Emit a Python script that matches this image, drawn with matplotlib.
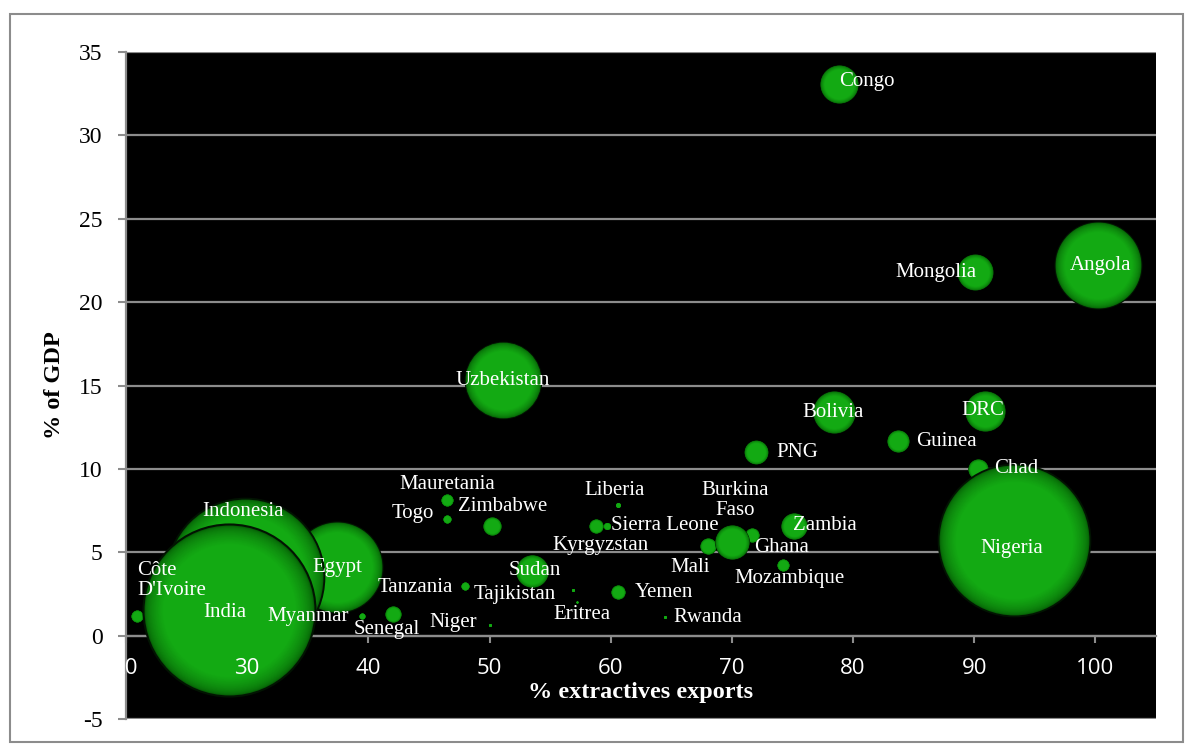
import matplotlib
matplotlib.use("Agg")
import matplotlib.pyplot as plt
import numpy as np
from matplotlib.colors import to_rgb
from matplotlib.patches import Rectangle

plt.rcParams["axes.unicode_minus"] = False

# data: % extractives exports, % of GDP, bubble value (area)
countries = ["Congo", "Angola", "Mongolia", "Bolivia", "DRC", "Guinea", "Chad",
             "Nigeria", "Uzbekistan", "PNG", "Liberia", "Sierra Leone", "Kyrgyzstan",
             "Burkina\nFaso", "Mali", "Ghana", "Zambia", "Mozambique", "Sudan",
             "Tajikistan", "Yemen", "Eritrea", "Rwanda", "Mauretania", "Togo",
             "Zimbabwe", "Tanzania", "Côte\nD'Ivoire", "Myanmar", "Senegal", "Niger",
             "Egypt", "Indonesia", "India"]
exports_pct = [78.8, 100.2, 90.1, 78.4, 90.9, 83.7, 90.3,
               93.3, 51.1, 72.0, 60.6, 59.7, 58.8,
               71.7, 68.0, 70.0, 75.1, 74.2, 53.5,
               56.9, 60.6, 57.2, 64.5, 46.5, 46.5,
               50.2, 48.0, 20.9, 39.5, 42.0, 50.0,
               37.45, 29.8, 28.5]
gdp_pct = [33.1, 22.2, 21.8, 13.4, 13.5, 11.7, 10.0,
           5.75, 15.3, 11.0, 7.85, 6.6, 6.6,
           6.05, 5.35, 5.6, 6.6, 4.25, 3.9,
           2.75, 2.6, 2.0, 1.1, 8.15, 7.0,
           6.55, 3.0, 1.2, 1.15, 1.3, 0.65,
           4.1, 3.5, 1.55]
bubble_value = [36, 185, 32, 44, 40, 12, 10,
                563, 144, 14, 0.6, 1.2, 4.9,
                4.9, 6.4, 29, 17, 3.6, 26,
                0.2, 4.9, 0.1, 0.2, 3.6, 1.6,
                8.1, 1.6, 3.6, 0.9, 6.4, 0.2,
                203, 608, 723]

y_ticks = [-5, 0, 5, 10, 15, 20, 25, 30, 35]
x_ticks = [20, 30, 40, 50, 60, 70, 80, 90, 100]

# label offsets in pixels (dx, dy up)
label_offsets = {
    "Congo": (28, 2), "Angola": (3, 0), "Mongolia": (-40, 0), "Bolivia": (-1, 0),
    "DRC": (-2, 0), "Guinea": (49, -1), "Chad": (38, 0), "Nigeria": (-2, -9),
    "Uzbekistan": (0, 0), "PNG": (41, 0), "Liberia": (-3, 14), "Sierra Leone": (58, 0),
    "Kyrgyzstan": (4, -20), "Burkina\nFaso": (-17, 34), "Mali": (-18, -21),
    "Ghana": (50, -5), "Zambia": (31, 0), "Mozambique": (7, -14), "Sudan": (3, 0),
    "Tajikistan": (-58, -5), "Yemen": (46, 0), "Eritrea": (5, -12), "Rwanda": (43, 0),
    "Mauretania": (0, 15), "Togo": (-34, 5), "Zimbabwe": (11, 20), "Tanzania": (-50, -2),
    "Côte\nD'Ivoire": (0, 35), "Myanmar": (-54, 0), "Senegal": (-6, -16),
    "Niger": (-36, 2), "Egypt": (0, 0), "Indonesia": (-2, 66), "India": (-4, -3),
}

fig = plt.figure(figsize=(11.92, 7.49), dpi=100)
fig.patch.set_facecolor("white")
ax = fig.add_axes([126 / 1192, 30 / 749, 1030 / 1192, 667 / 749])
ax.set_facecolor("black")
ax.set_xlim(20, 105)
ax.set_ylim(-5, 35)

grey = "#8c8c8c"
ax.set_yticks(y_ticks)
ax.set_xticks(x_ticks)
ax.grid(axis="y", color=grey, linewidth=1.6, zorder=1)
ax.set_axisbelow(True)
for s in ["top", "right"]:
    ax.spines[s].set_visible(False)
ax.spines["left"].set_color(grey)
ax.spines["left"].set_linewidth(1.6)
ax.spines["bottom"].set_position(("data", 0))
ax.spines["bottom"].set_color(grey)
ax.spines["bottom"].set_linewidth(1.6)
ax.spines["bottom"].set_zorder(1)

ax.tick_params(axis="y", direction="out", length=6, width=1.5, color=grey, pad=11,
               labelsize=17, labelcolor="black")
ax.tick_params(axis="x", direction="out", length=5, width=1.5, color=grey,
               labelbottom=False)
for t in ax.get_yticklabels():
    t.set_fontfamily("Liberation Serif")

# x tick labels drawn as text so they sit above the bubbles
for xt in x_ticks:
    ax.text(xt, -2.0, str(xt), ha="center", va="center", color="white",
            fontsize=16, family="Open Sans", zorder=80, clip_on=False)

# shaded bubbles
dark = np.array(to_rgb("#066006"))
light = np.array(to_rgb("#13aa13"))
n_layers = 22
for i, (x, y, v) in enumerate(zip(exports_pct, gdp_pct, bubble_value)):
    s = 20.7 * v
    base = 2 + i
    ax.scatter(x, y, s=s * 1.05, color="#021402", zorder=base, linewidths=0)
    for k in range(n_layers):
        u = k / (n_layers - 1)
        f = 1 - 0.22 * u
        t = u ** 0.55
        c = dark * (1 - t) + light * t
        ax.scatter(x, y, s=s * f ** 2, color=c, zorder=base + 0.05 + k * 0.01,
                   linewidths=0)

for name, x, y in zip(countries, exports_pct, gdp_pct):
    dx, dy = label_offsets[name]
    ha = "left" if name.startswith("Côte") else "center"
    ax.annotate(name, (x, y), xytext=(dx, dy), textcoords="offset pixels",
                ha=ha, va="center", color="white", fontsize=15,
                family="Liberation Serif", zorder=60, linespacing=1.1)

ax.text(0.5, -3.42, "% extractives exports", transform=ax.get_yaxis_transform(),
        ha="center", va="center", color="white", fontsize=17.5,
        fontweight="bold", family="Liberation Serif", zorder=60)
fig.text(55 / 1192, 1 - 385 / 749, "% of GDP", rotation=90, ha="center",
         va="center", color="black", fontsize=17.5, fontweight="bold",
         family="Liberation Serif")

fig.patches.append(Rectangle((10 / 1192, 7 / 749), 1173 / 1192, 728 / 749,
                             transform=fig.transFigure, fill=False,
                             edgecolor=grey, linewidth=1.5))

plt.savefig("out.png", dpi=100)
